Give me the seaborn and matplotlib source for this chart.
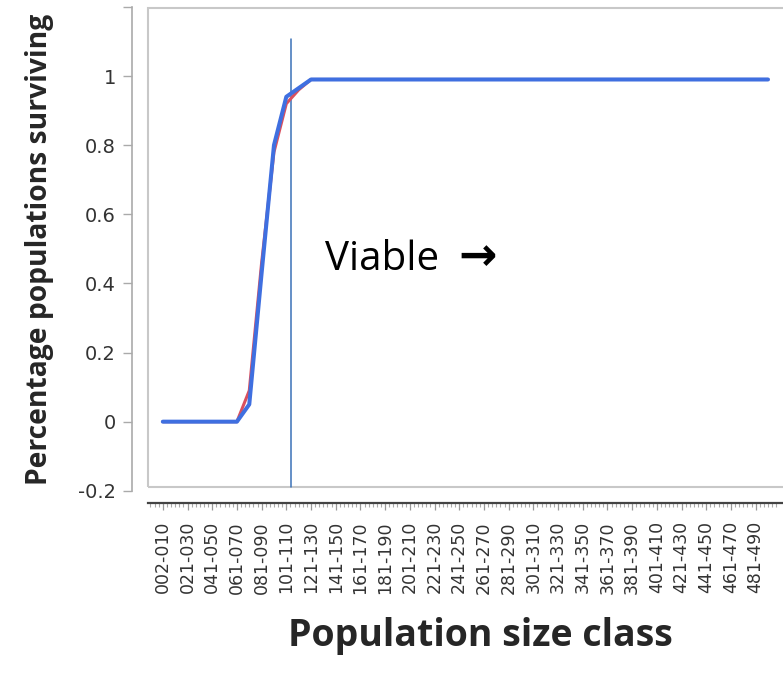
import matplotlib
matplotlib.use("Agg")
import matplotlib.pyplot as plt
import seaborn as sns
import pandas as pd
from matplotlib.patches import Rectangle

size_classes = [
    "002-010", "011-020", "021-030", "031-040", "041-050", "051-060", "061-070", "071-080",
    "081-090", "091-100", "101-110", "111-120", "121-130", "131-140", "141-150", "151-160",
    "161-170", "171-180", "181-190", "191-200", "201-210", "211-220", "221-230", "231-240",
    "241-250", "251-260", "261-270", "271-280", "281-290", "291-300", "301-310", "311-320",
    "321-330", "331-340", "341-350", "351-360", "361-370", "371-380", "381-390", "391-400",
    "401-410", "411-420", "421-430", "431-440", "441-450", "451-460", "461-470", "471-480",
    "481-490", "491-500",
]

surv_red = [
    0.0, 0.0, 0.0, 0.0, 0.0, 0.0, 0.0, 0.09, 0.46, 0.78,
    0.92, 0.96, 0.99, 0.99, 0.99, 0.99, 0.99, 0.99, 0.99, 0.99,
    0.99, 0.99, 0.99, 0.99, 0.99, 0.99, 0.99, 0.99, 0.99, 0.99,
    0.99, 0.99, 0.99, 0.99, 0.99, 0.99, 0.99, 0.99, 0.99, 0.99,
    0.99, 0.99, 0.99, 0.99, 0.99, 0.99, 0.99, 0.99, 0.99, 0.99,
]
surv_blue = [
    0.0, 0.0, 0.0, 0.0, 0.0, 0.0, 0.0, 0.05, 0.43, 0.80,
    0.94, 0.965, 0.99, 0.99, 0.99, 0.99, 0.99, 0.99, 0.99, 0.99,
    0.99, 0.99, 0.99, 0.99, 0.99, 0.99, 0.99, 0.99, 0.99, 0.99,
    0.99, 0.99, 0.99, 0.99, 0.99, 0.99, 0.99, 0.99, 0.99, 0.99,
    0.99, 0.99, 0.99, 0.99, 0.99, 0.99, 0.99, 0.99, 0.99, 0.99,
]

viable_threshold = 10.4          # position between 101-110 and 111-120
y_ticks = [-0.2, 0, 0.2, 0.4, 0.6, 0.8, 1.0, 1.2]
y_tick_labels = ["-0.2", "0", "0.2", "0.4", "0.6", "0.8", "1", ""]

sns.set_style("white")
plt.rcParams["font.family"] = ["DejaVu Sans"]

W, H = 783, 677
fig = plt.figure(figsize=(W / 100, H / 100), dpi=100)
ax = fig.add_axes([148 / W, (H - 490.8) / H, 634.8 / W, 483.9 / H])

df_red = pd.DataFrame({"cls": size_classes, "surv": surv_red})
df_blue = pd.DataFrame({"cls": size_classes, "surv": surv_blue})

sns.lineplot(data=df_red, x="cls", y="surv", sort=False, color="#d9505e",
             linewidth=2.2, ax=ax, zorder=3)
sns.lineplot(data=df_blue, x="cls", y="surv", sort=False, color="#3f6fe0",
             linewidth=2.9, ax=ax, zorder=4)

ax.plot([viable_threshold, viable_threshold], [1.107, -0.19], color="#3b72b8",
        linewidth=1.1, zorder=2)

ax.set_xlim(-1.2, 50.2)
ax.set_ylim(-0.2, 1.2)

# frame around plotting area
frame = Rectangle((0, 0.008), 1.05, 0.99, transform=ax.transAxes, fill=False,
                  edgecolor="#c8c8c8", linewidth=1.5, clip_on=False, zorder=1)
ax.add_patch(frame)

for s in ["top", "right"]:
    ax.spines[s].set_visible(False)
ax.spines["left"].set_position(("outward", 11.5))
ax.spines["left"].set_bounds(-0.2, 1.2)
ax.spines["left"].set_color("#aaaaaa")
ax.spines["left"].set_linewidth(1.2)
ax.spines["bottom"].set_position(("outward", 8.8))
ax.spines["bottom"].set_color("#444444")
ax.spines["bottom"].set_linewidth(1.6)

ax.set_yticks(y_ticks)
ax.set_yticklabels(y_tick_labels)
ax.tick_params(axis="y", left=True, direction="out", length=6.5, width=1.0,
               color="#aaaaaa", labelsize=14, labelcolor="#333333", pad=5)

ax.set_xticks(list(range(0, 50, 2)))
ax.set_xticklabels(size_classes[::2], rotation=90)
ax.set_xticks([i / 3 for i in range(-3, 150)], minor=True)
ax.tick_params(axis="x", which="major", bottom=True, direction="out", length=5,
               width=0.9, color="#999999", labelsize=12.5, labelcolor="#333333", pad=8)
ax.tick_params(axis="x", which="minor", bottom=True, direction="out", length=3,
               width=0.8, color="#aaaaaa")
ax.set_xlabel("")
ax.set_ylabel("")

ax.text((325 - 148) / 634.8, (490.8 - 270) / 483.9, "Viable",
        transform=ax.transAxes, fontsize=29, family=["Open Sans", "DejaVu Sans"],
        ha="left", va="baseline", color="black")
ax.text((458 - 148) / 634.8, (490.8 - 270) / 483.9, "\u2192",
        transform=ax.transAxes, fontsize=33, fontweight="bold",
        family=["DejaVu Sans"], ha="left", va="baseline", color="black")

fig.text(480 / W, 1 - 636 / H, "Population size class", fontsize=27,
         fontweight="bold", family=["Open Sans", "DejaVu Sans"], ha="center", va="center")
fig.text(40 / W, 1 - 249 / H, "Percentage populations surviving", fontsize=20.3,
         fontweight="bold", family=["Open Sans", "DejaVu Sans"], rotation=90,
         ha="center", va="center")

fig.savefig("out.png", dpi=100, facecolor="white")
